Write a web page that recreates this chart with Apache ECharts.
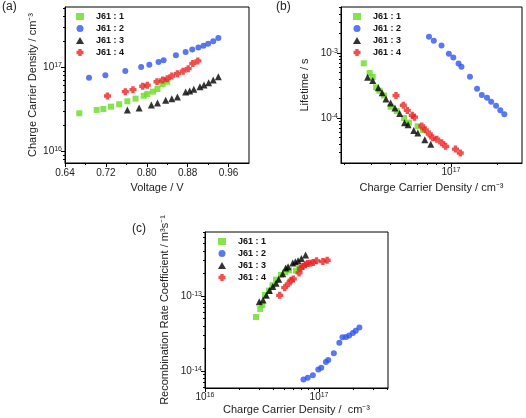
<!DOCTYPE html>
<html><head><meta charset="utf-8">
<script src="https://cdn.jsdelivr.net/npm/echarts@6/dist/echarts.min.js"></script>
<style>html,body{margin:0;padding:0;background:#fff}#c{width:526px;height:418px}</style>
</head><body><div id="c"></div>
<script>
const seriesNames = ['J61 : 1', 'J61 : 2', 'J61 : 3', 'J61 : 4'];

// Panel (a): voltage (V) vs charge carrier density (cm^-3)
const aV1 = [0.668,0.702,0.715,0.730,0.746,0.762,0.778,0.794,0.801,0.812,0.821,0.831,0.840];
const aN1 = [2.81e16,3.08e16,3.16e16,3.37e16,3.60e16,3.91e16,4.20e16,4.55e16,4.77e16,5.09e16,5.47e16,6.28e16,6.68e16];
const aV2 = [0.687,0.719,0.758,0.789,0.805,0.823,0.833,0.857,0.876,0.889,0.901,0.911,0.920,0.930,0.940];
const aN2 = [7.46e16,7.96e16,8.96e16,1.0e17,1.065e17,1.15e17,1.20e17,1.38e17,1.51e17,1.61e17,1.70e17,1.79e17,1.89e17,2.02e17,2.21e17];
const aV3 = [0.762,0.785,0.809,0.821,0.837,0.849,0.860,0.876,0.884,0.892,0.904,0.912,0.921,0.930,0.940];
const aN3 = [3.08e16,3.25e16,3.53e16,3.73e16,4.01e16,4.20e16,4.40e16,5.04e16,5.18e16,5.43e16,5.83e16,6.11e16,6.51e16,7.0e16,7.67e16];
const aV4 = [0.723,0.758,0.773,0.792,0.801,0.820,0.831,0.840,0.849,0.860,0.871,0.881,0.890,0.900];
const aN4 = [4.52e16,5.08e16,5.37e16,5.89e16,6.07e16,6.68e16,7.0e16,7.26e16,7.82e16,8.32e16,8.91e16,9.55e16,1.10e17,1.18e17];

// Panel (b): charge carrier density (cm^-3) vs lifetime (s)
const bN1 = [2.69e16,2.94e16,3.08e16,3.24e16,3.40e16,3.65e16,4.03e16,4.42e16,4.93e16,5.31e16,6.05e16,6.56e16];
const bT1 = [6.95e-4,4.92e-4,4.27e-4,2.97e-4,2.63e-4,2.22e-4,1.49e-4,1.28e-4,1.0e-4,8.53e-5,7.48e-5,6.53e-5];
const bN2 = [7.18e16,7.72e16,8.67e16,9.68e16,1.035e17,1.12e17,1.17e17,1.33e17,1.48e17,1.59e17,1.72e17,1.83e17,1.97e17,2.10e17,2.23e17];
const bT2 = [1.78e-3,1.55e-3,1.30e-3,9.76e-4,8.53e-4,6.89e-4,6.15e-4,4.31e-4,2.82e-4,2.26e-4,2.05e-4,1.78e-4,1.54e-4,1.32e-4,1.14e-4];
const bN3 = [2.85e16,3.08e16,3.35e16,3.55e16,3.76e16,4.03e16,4.30e16,4.62e16,4.97e16,5.24e16,5.71e16,6.07e16,6.74e16,7.37e16];
const bT3 = [4.23e-4,3.78e-4,2.92e-4,2.44e-4,1.96e-4,1.70e-4,1.43e-4,1.17e-4,8.43e-5,7.85e-5,6.43e-5,5.88e-5,4.63e-5,3.95e-5];
const bN4 = [4.37e16,4.88e16,5.18e16,5.58e16,5.77e16,6.44e16,6.79e16,7.21e16,7.59e16,8.07e16,8.69e16,9.23e16,1.07e17,1.15e17];
const bT4 = [2.22e-4,1.57e-4,1.31e-4,1.10e-4,1.03e-4,7.54e-5,6.58e-5,5.68e-5,4.96e-5,4.72e-5,4.17e-5,3.67e-5,3.33e-5,2.90e-5];

// Panel (c): charge carrier density (cm^-3) vs recombination rate coefficient (m^3 s^-1)
const cN1 = [2.80e16,3.05e16,3.18e16,3.36e16,3.64e16,3.91e16,4.20e16,4.64e16,5.06e16,5.45e16,6.28e16,6.70e16];
const cK1 = [5.25e-14,6.71e-14,7.59e-14,1.03e-13,1.18e-13,1.39e-13,1.65e-13,1.91e-13,2.08e-13,2.20e-13,2.17e-13,2.31e-13];
const cN2 = [7.31e16,7.96e16,8.83e16,9.86e16,1.047e17,1.148e17,1.205e17,1.349e17,1.507e17,1.607e17,1.726e17,1.84e17,1.98e17,2.10e17,2.26e17];
const cK2 = [7.71e-15,8.15e-15,8.77e-15,1.047e-14,1.107e-14,1.318e-14,1.40e-14,1.72e-14,2.38e-14,2.81e-14,2.84e-14,2.97e-14,3.21e-14,3.44e-14,3.80e-14];
const cN3 = [2.99e16,3.23e16,3.45e16,3.67e16,3.93e16,4.20e16,4.43e16,4.80e16,5.10e16,5.35e16,5.88e16,6.20e16,6.55e16,7.0e16,7.62e16];
const cK3 = [8.39e-14,8.85e-14,1.02e-13,1.18e-13,1.34e-13,1.48e-13,1.67e-13,1.98e-13,2.36e-13,2.46e-13,2.75e-13,2.86e-13,2.96e-13,3.15e-13,3.52e-13];
const cN4 = [4.52e16,5.0e16,5.37e16,5.68e16,5.95e16,6.68e16,6.89e16,7.24e16,7.59e16,7.93e16,8.37e16,8.91e16,9.51e16,1.08e17,1.18e17];
const cK4 = [1.02e-13,1.29e-13,1.45e-13,1.62e-13,1.69e-13,2.03e-13,2.34e-13,2.49e-13,2.61e-13,2.70e-13,2.73e-13,2.80e-13,2.94e-13,2.88e-13,2.99e-13];

// Tick labels
const aXTicks = [0.64, 0.72, 0.80, 0.88, 0.96];
const aYTicks = [1e16, 1e17];
const bXTicks = [1e17];
const bYTicks = [1e-4, 1e-3];
const cXTicks = [1e16, 1e17];
const cYTicks = [1e-14, 1e-13];

const FONT = "'Liberation Sans', Arial, sans-serif";
const colors = ['#66dd22', '#2f55ee', '#000000', '#ee2222'];
const symbols = ['rect', 'circle', 'triangle', 'path://M2.6,0H7.4V2.6H10V7.4H7.4V10H2.6V7.4H0V2.6H2.6Z'];
const sizes = [6, 6, 7, 7];

const lg = v => Math.log10(v);
function minorLog(lo, hi) {
  const out = [];
  for (let e = Math.floor(lo) - 1; e <= Math.ceil(hi); e++) {
    for (let k = 2; k <= 9; k++) { const v = e + Math.log10(k); if (v > lo && v < hi) out.push(v); }
  }
  return out;
}
const pow10 = v => '{b|10}{s|' + Math.round(v) + '}';
const rich = { b: { fontSize: 10, fontFamily: FONT, color: '#222', verticalAlign: 'bottom' }, s: { fontSize: 7, fontFamily: FONT, color: '#222', verticalAlign: 'top' } };

function mainAxis(grid, min, max, labels, fmt, name, nameGap, margin, isY) {
  return {
    type: 'value', gridIndex: grid, min: min, max: max, position: isY ? 'left' : 'bottom',
    splitLine: { show: false },
    axisLine: { show: true, onZero: false, lineStyle: { color: '#000', width: 1 } },
    axisTick: { show: true, length: 4, customValues: labels, lineStyle: { color: '#000' } },
    axisLabel: { customValues: labels, formatter: fmt, margin: margin, fontSize: 10, fontFamily: FONT, color: '#222', rich: rich },
    name: name, nameLocation: 'middle', nameGap: nameGap,
    nameTextStyle: { fontSize: 11, fontFamily: FONT, color: '#222' }
  };
}
function minorAxis(grid, min, max, vals, isY) {
  return {
    type: 'value', gridIndex: grid, min: min, max: max, position: isY ? 'left' : 'bottom',
    splitLine: { show: false }, axisLine: { show: false },
    axisTick: { show: true, length: 2, customValues: vals, lineStyle: { color: '#000' } },
    axisLabel: { show: false }
  };
}

const aXmin = 0.64, aXmax = 1.0, aYmin = 15.857, aYmax = 17.714;
const bXmin = 16.281, bXmax = 17.464, bYmin = -4.692, bYmax = -2.292;
const cXmin = 16.0, cXmax = 17.605, cYmin = -14.227, cYmax = -12.147;

const aMinorX = [0.68, 0.76, 0.84, 0.92];

const xAxis = [
  mainAxis(0, aXmin, aXmax, aXTicks, v => v.toFixed(2), 'Voltage / V', 19, 5, false),
  mainAxis(1, bXmin, bXmax, bXTicks.map(lg), pow10, 'Charge Carrier Density / cm\u207B\u00B3', 19, 4, false),
  mainAxis(2, cXmin, cXmax, cXTicks.map(lg), pow10, 'Charge Carrier Density /  cm\u207B\u00B3', 16, 4, false),
  minorAxis(0, aXmin, aXmax, aMinorX, false),
  minorAxis(1, bXmin, bXmax, minorLog(bXmin, bXmax), false),
  minorAxis(2, cXmin, cXmax, minorLog(cXmin, cXmax), false)
];
const yAxis = [
  mainAxis(0, aYmin, aYmax, aYTicks.map(lg), pow10, 'Charge Carrier Density / cm\u207B\u00B3', 27, 3, true),
  mainAxis(1, bYmin, bYmax, bYTicks.map(lg), pow10, 'Lifetime / s', 31, 3, true),
  mainAxis(2, cYmin, cYmax, cYTicks.map(lg), pow10, 'Recombination Rate Coefficient / m\u00B3s\u207B\u00B9', 35, 3, true),
  minorAxis(0, aYmin, aYmax, minorLog(aYmin, aYmax), true),
  minorAxis(1, bYmin, bYmax, minorLog(bYmin, bYmax), true),
  minorAxis(2, cYmin, cYmax, minorLog(cYmin, cYmax), true)
];

const panels = [
  { xs: [aV1, aV2, aV3, aV4], ys: [aN1, aN2, aN3, aN4], logX: false },
  { xs: [bN1, bN2, bN3, bN4], ys: [bT1, bT2, bT3, bT4], logX: true },
  { xs: [cN1, cN2, cN3, cN4], ys: [cK1, cK2, cK3, cK4], logX: true }
];
const series = [];
panels.forEach((p, gi) => {
  for (let i = 0; i < 4; i++) {
    series.push({
      type: 'scatter', name: seriesNames[i], xAxisIndex: gi, yAxisIndex: gi,
      symbol: symbols[i], symbolSize: sizes[i],
      itemStyle: { color: colors[i] },
      data: p.xs[i].map((x, k) => [p.logX ? lg(x) : x, lg(p.ys[i][k])])
    });
  }
});

function legend(left, top) {
  return {
    data: seriesNames, orient: 'vertical', left: left, top: top, padding: 0,
    itemWidth: 8, itemHeight: 7, itemGap: 3,
    textStyle: { fontSize: 9, fontWeight: 'bold', fontFamily: FONT, color: '#111', padding: [0, 0, 0, 7] }
  };
}

const chart = echarts.init(document.getElementById('c'), null, { renderer: 'canvas' });
chart.setOption({
  animation: false,
  backgroundColor: '#fff',
  title: [
    { text: '(a)', left: 2, top: 1, textStyle: { fontSize: 12, fontWeight: 'normal', fontFamily: FONT, color: '#222' }, padding: 0 },
    { text: '(b)', left: 276, top: 1, textStyle: { fontSize: 12, fontWeight: 'normal', fontFamily: FONT, color: '#222' }, padding: 0 },
    { text: '(c)', left: 132, top: 223, textStyle: { fontSize: 12, fontWeight: 'normal', fontFamily: FONT, color: '#222' }, padding: 0 }
  ],
  grid: [
    { left: 65, top: 7, width: 184, height: 156, show: true, borderColor: '#000', borderWidth: 1 },
    { left: 341, top: 7, width: 181, height: 156, show: true, borderColor: '#000', borderWidth: 1 },
    { left: 205, top: 232, width: 183, height: 156, show: true, borderColor: '#000', borderWidth: 1 }
  ],
  legend: [legend(76, 12), legend(353, 12), legend(218, 237)],
  xAxis: xAxis, yAxis: yAxis, series: series
});
</script></body></html>
